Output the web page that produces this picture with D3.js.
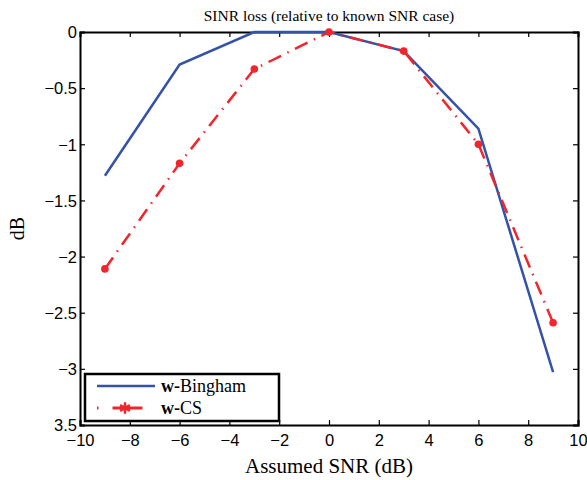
<!DOCTYPE html>
<html lang="en">
<head>
<meta charset="UTF-8">
<title>SINR loss</title>
<style>
  * { margin: 0; padding: 0; }
  body { background: white; }
</style>
</head>
<body>
<div id="chart"></div>
<script src="https://cdn.jsdelivr.net/npm/d3@7"></script>
<script>
const snr = [-9, -6, -3, 0, 3, 6, 9]
const bingham = [-1.28, -0.29, 0, 0, -0.17, -0.86, -3.03]
const cs = [-2.11, -1.17, -0.33, 0, -0.17, -1.0, -2.59]
const xTicks = [-10, -8, -6, -4, -2, 0, 2, 4, 6, 8, 10]
const yTicks = [0, -0.5, -1, -1.5, -2, -2.5, -3, -3.5]
const yTickLabels = ['0', '\u22120.5', '\u22121', '\u22121.5', '\u22122', '\u22122.5', '\u22123', '3.5']
const seriesNames = ['Bingham', 'CS']

const W = 587, H = 480
const m = {left: 80, right: 9, top: 32, bottom: 55}
const svg = d3.select('#chart').append('svg')
  .attr('width', W).attr('height', H)

const x = d3.scaleLinear().domain([-10, 10]).range([m.left, W - m.right])
const y = d3.scaleLinear().domain([0, -3.5]).range([m.top, H - m.bottom])

const sans = 'Liberation Sans, Arial, sans-serif'
const serif = 'Liberation Serif, DejaVu Serif, serif'
const blue = '#3553a6'
const red = '#f0262c'

// axes, ticks inward on all sides
const axB = svg.append('g').attr('transform', `translate(0,${y(-3.5)})`)
  .call(d3.axisBottom(x).tickValues(xTicks).tickSize(-5).tickPadding(9).tickFormat(d => d < 0 ? '\u2212' + Math.abs(d) : d))
const axT = svg.append('g').attr('transform', `translate(0,${y(0)})`)
  .call(d3.axisTop(x).tickValues(xTicks).tickSize(-5).tickFormat(''))
const axL = svg.append('g').attr('transform', `translate(${x(-10)},0)`)
  .call(d3.axisLeft(y).tickValues(yTicks).tickSize(-5).tickPadding(3).tickFormat((d, i) => yTickLabels[i]))
const axR = svg.append('g').attr('transform', `translate(${x(10)},0)`)
  .call(d3.axisRight(y).tickValues(yTicks).tickSize(-5).tickFormat(''))

;[axB, axT, axL, axR].forEach(a => {
  a.select('.domain').attr('stroke', '#000').attr('stroke-width', 2)
  a.selectAll('.tick line').attr('stroke', '#000').attr('stroke-width', 1.2)
  a.selectAll('text').attr('font-family', sans).attr('font-size', 16.5).attr('fill', '#000')
})
axL.selectAll('text').attr('dy', '0.35em')

// lines
const line = d3.line().x((d, i) => x(snr[i])).y(d => y(d))
svg.append('path').datum(bingham)
  .attr('d', line).attr('fill', 'none').attr('stroke', blue).attr('stroke-width', 2.5)
svg.append('path').datum(cs)
  .attr('d', line).attr('fill', 'none').attr('stroke', red).attr('stroke-width', 2.5)
  .attr('stroke-dasharray', '14,7,1.5,7')
svg.selectAll('.pt').data(cs).enter().append('circle')
  .attr('cx', (d, i) => x(snr[i])).attr('cy', d => y(d))
  .attr('r', 3.8).attr('fill', red)

// title and labels
svg.append('text').attr('x', x(0)).attr('y', 21).attr('text-anchor', 'middle')
  .attr('font-family', serif).attr('font-size', 15.5).text('SINR loss (relative to known SNR case)')
svg.append('text').attr('x', x(0)).attr('y', 473).attr('text-anchor', 'middle')
  .attr('font-family', serif).attr('font-size', 21).text('Assumed SNR (dB)')
svg.append('text').attr('transform', `translate(24,${y(-1.75)}) rotate(-90)`).attr('text-anchor', 'middle')
  .attr('font-family', serif).attr('font-size', 20).text('dB')

// legend
const lg = svg.append('g')
lg.append('rect').attr('x', 85).attr('y', 374).attr('width', 194).attr('height', 47)
  .attr('fill', 'white').attr('stroke', '#000').attr('stroke-width', 2.5)
const rows = [
  {name: seriesNames[0], color: blue, dash: null, star: false},
  {name: seriesNames[1], color: red, dash: '1.5,14,30,20', star: true}
]
rows.forEach((r, i) => {
  const yy = 386 + i * 22
  lg.append('line').attr('x1', 97).attr('x2', 155).attr('y1', yy).attr('y2', yy)
    .attr('stroke', r.color).attr('stroke-width', r.star ? 3 : 2.5).attr('stroke-dasharray', r.dash)
  if (r.star) {
    lg.append('path').attr('transform', `translate(125,${yy})`)
      .attr('d', d3.symbol(d3.symbolAsterisk, 90)())
      .attr('stroke', r.color).attr('stroke-width', 2.5).attr('fill', 'none')
  }
  const t = lg.append('text').attr('x', 161).attr('y', yy + 6)
    .attr('font-family', serif).attr('font-size', 18)
  t.append('tspan').attr('font-weight', 'bold').text('w-')
  t.append('tspan').text(r.name)
})
</script>
</body>
</html>
